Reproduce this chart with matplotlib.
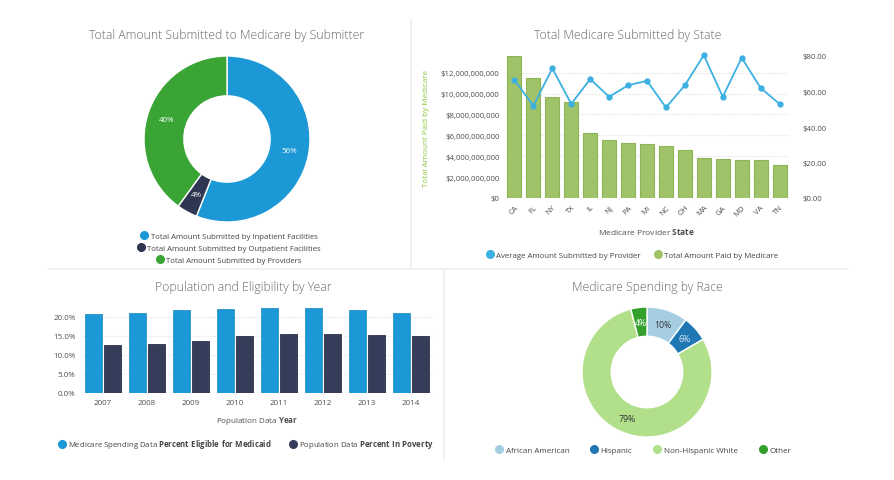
import matplotlib
matplotlib.use("Agg")
import matplotlib.pyplot as plt
from matplotlib.lines import Line2D
import numpy as np

plt.rcParams['font.family'] = ['Open Sans', 'DejaVu Sans']
plt.rcParams['mathtext.fontset'] = 'custom'
plt.rcParams['mathtext.rm'] = 'Open Sans'
plt.rcParams['mathtext.bf'] = 'Open Sans:bold'

# ---------------- data ----------------
submitter_labels = ["Total Amount Submitted by Inpatient Facilities",
                    "Total Amount Submitted by Outpatient Facilities",
                    "Total Amount Submitted by Providers"]
submitter_values = [56, 4, 40]

states = ["CA", "FL", "NY", "TX", "IL", "NJ", "PA", "MI", "NC", "OH", "MA", "GA", "MD", "VA", "TN"]
paid_by_medicare = [13.6e9, 11.45e9, 9.7e9, 9.2e9, 6.27e9, 5.57e9, 5.3e9, 5.2e9, 4.97e9, 4.6e9,
                    3.8e9, 3.7e9, 3.63e9, 3.63e9, 3.18e9]
avg_submitted = [66.4, 52, 73, 53, 67, 57, 63.5, 66, 51, 63.5, 80.5, 57, 79, 62, 53]

years = ["2007", "2008", "2009", "2010", "2011", "2012", "2013", "2014"]
pct_eligible = [20.9, 21.1, 21.7, 22.1, 22.4, 22.3, 21.9, 21.1]
pct_poverty = [12.6, 12.8, 13.8, 14.9, 15.5, 15.5, 15.3, 15.0]

race_labels = ["African American", "Hispanic", "Non-Hispanic White", "Other"]
race_values = [10.2, 6.4, 79.4, 4.0]
race_pct_text = ["10%", "6%", "79%", "4%"]

# ---------------- styles ----------------
W, H = 894, 481
fig = plt.figure(figsize=(W / 100, H / 100), dpi=100)
fig.patch.set_facecolor("white")

TITLE_C = "#666666"
TICK_C = "#505050"
LEG_C = "#444444"
SEP_C = "#eeeeee"


def px_axes(left, top, right, bottom):
    return fig.add_axes([left / W, 1 - bottom / H, (right - left) / W, (bottom - top) / H])


def ftitle(x, y, s):
    fig.text(x / W, 1 - y / H, s, ha="center", va="center", fontsize=8.7, color=TITLE_C,
             fontweight="light")


def dot(c):
    return Line2D([], [], marker="o", ls="", color=c, markersize=5.5)


# separators
fig.add_artist(Line2D([411 / W, 411 / W], [1 - 20 / H, 1 - 268 / H], color=SEP_C, lw=1.2))
fig.add_artist(Line2D([48 / W, 848 / W], [1 - 270 / H, 1 - 270 / H], color=SEP_C, lw=1.2))
fig.add_artist(Line2D([444 / W, 444 / W], [1 - 272 / H, 1 - 460 / H], color=SEP_C, lw=1.2))

# ---------------- top-left donut ----------------
ftitle(227, 35, "Total Amount Submitted to Medicare by Submitter")
cx, cy, r = 227, 140, 83
ax1 = px_axes(cx - r, cy - r, cx + r, cy + r)
sub_colors = ["#1b98d5", "#2f3651", "#3aa535"]
ax1.pie(submitter_values, colors=sub_colors, startangle=90, counterclock=False,
        radius=1, wedgeprops=dict(width=0.48, edgecolor="white", linewidth=1.0))
tot = sum(submitter_values)
ang = 90
for v in submitter_values:
    mid = ang - v / tot * 360 / 2
    ang -= v / tot * 360
    rr = 0.76
    ax1.text(rr * np.cos(np.radians(mid)), rr * np.sin(np.radians(mid)), f"{v}%",
             ha="center", va="center", fontsize=5.8, color="white")
ax1.set_xlim(-1, 1); ax1.set_ylim(-1, 1); ax1.set_aspect("equal"); ax1.axis("off")
for i, (lab, c) in enumerate(zip(submitter_labels, sub_colors)):
    fig.legend([dot(c)], [lab], loc="center", bbox_to_anchor=(229 / W, 1 - (237 + 12 * i) / H),
               frameon=False, fontsize=5.6, labelcolor=LEG_C, handletextpad=0.3,
               handlelength=1.0, borderpad=0)

# ---------------- top-right bar + line ----------------
ftitle(628, 35, "Total Medicare Submitted by State")
ax2 = px_axes(505, 57, 789, 199)
x = np.arange(len(states))
ax2.bar(x, paid_by_medicare, width=0.74, color="#a0c36a", edgecolor="#8db457", linewidth=0.8, zorder=2)
ax2.set_xlim(-0.5, len(states) - 0.5)
ax2.set_ylim(0, 13.6e9)
ax2.set_yticks(np.arange(0, 12.1e9, 2e9))
ax2.set_yticklabels(["$0"] + [f"${int(v):,}" for v in np.arange(2e9, 12.1e9, 2e9)])
ax2.set_xticks(x)
ax2.set_xticklabels(states, rotation=45, ha="right", rotation_mode="anchor")
ax2.tick_params(axis="both", length=0, labelsize=5.6, labelcolor=TICK_C, pad=4)
ax2.grid(axis="y", color="#e6e6e6", ls=(0, (1, 1)), lw=0.8, zorder=0)
for s in ax2.spines.values():
    s.set_visible(False)
ax2.set_ylabel("Total Amount Paid by Medicare", color="#8dc63f", fontsize=5.8, labelpad=8)
ax2.set_xlabel("Medicare Provider $\\bf{State}$", color=TICK_C, fontsize=6, labelpad=6)
ax2b = ax2.twinx()
ax2b.plot(x, avg_submitted, color="#3cb0e0", lw=1.3, marker="o", markersize=3.5, zorder=3,
          clip_on=False)
ax2b.set_ylim(0, 80)
ax2b.set_yticks([0, 20, 40, 60, 80])
ax2b.set_yticklabels(["$0.00", "$20.00", "$40.00", "$60.00", "$80.00"])
ax2b.tick_params(axis="y", length=0, labelsize=5.6, labelcolor=TICK_C, pad=10)
for s in ax2b.spines.values():
    s.set_visible(False)
fig.legend([dot("#3cb0e0"), dot("#a0c36a")],
           ["Average Amount Submitted by Provider", "Total Amount Paid by Medicare"],
           loc="center", bbox_to_anchor=(632 / W, 1 - 256 / H), ncol=2, frameon=False,
           fontsize=5.7, labelcolor=LEG_C, handletextpad=0.3, columnspacing=1.6,
           handlelength=1.0, borderpad=0)

# ---------------- bottom-left grouped bars ----------------
ftitle(243, 288, "Population and Eligibility by Year")
ax3 = px_axes(81, 305, 433, 394)
xi = np.arange(len(years))
ax3.bar(xi - 0.216, pct_eligible, width=0.386, color="#1b98d5", edgecolor="#2a8fc8", lw=0.6, zorder=2)
ax3.bar(xi + 0.216, pct_poverty, width=0.386, color="#363d5a", edgecolor="#2c3148", lw=0.6, zorder=2)
ax3.set_xlim(-0.5, len(years) - 0.5)
ax3.set_ylim(0, 23.4)
ax3.set_yticks([0, 5, 10, 15, 20])
ax3.set_yticklabels(["0.0%", "5.0%", "10.0%", "15.0%", "20.0%"])
ax3.set_xticks(xi)
ax3.set_xticklabels(years)
ax3.tick_params(axis="both", length=0, labelsize=5.8, labelcolor=TICK_C, pad=4)
ax3.grid(axis="y", color="#e6e6e6", ls=(0, (1, 1)), lw=0.8, zorder=0)
for s in ax3.spines.values():
    s.set_visible(False)
ax3.set_xlabel("Population Data $\\bf{Year}$", color=TICK_C, fontsize=5.8, labelpad=6)
fig.legend([dot("#1b98d5"), dot("#363d5a")],
           ["Medicare Spending Data $\\bf{Percent\\ Eligible\\ for\\ Medicaid}$",
            "Population Data $\\bf{Percent\\ In\\ Poverty}$"],
           loc="center", bbox_to_anchor=(246 / W, 1 - 445 / H), ncol=2, frameon=False,
           fontsize=5.6, labelcolor=LEG_C, handletextpad=0.3, columnspacing=2.2,
           handlelength=1.0, borderpad=0)

# ---------------- bottom-right donut ----------------
ftitle(647, 288, "Medicare Spending by Race")
cx, cy, r = 647, 373, 65
ax4 = px_axes(cx - r, cy - r, cx + r, cy + r)
race_colors = ["#a6cee3", "#1f78b4", "#b2df8a", "#33a02c"]
ax4.pie(race_values, colors=race_colors, startangle=90, counterclock=False, radius=1,
        wedgeprops=dict(width=0.45, edgecolor="white", linewidth=1.0))
txt_colors = ["#333333", "#dce9f5", "#333333", "white"]
tot = sum(race_values)
ang = 90
for v, t, c in zip(race_values, race_pct_text, txt_colors):
    mid = ang - v / tot * 360 / 2
    ang -= v / tot * 360
    rr = 0.775
    ax4.text(rr * np.cos(np.radians(mid)), rr * np.sin(np.radians(mid)), t,
             ha="center", va="center", fontsize=6.3, color=c)
ax4.set_xlim(-1, 1); ax4.set_ylim(-1, 1); ax4.set_aspect("equal"); ax4.axis("off")
fig.legend([dot(c) for c in race_colors], race_labels, loc="center",
           bbox_to_anchor=(643 / W, 1 - 451 / H), ncol=4, frameon=False, fontsize=5.8,
           labelcolor=LEG_C, handletextpad=0.3, columnspacing=2.6, handlelength=1.0, borderpad=0)

fig.savefig("out.png", dpi=100, facecolor="white")
